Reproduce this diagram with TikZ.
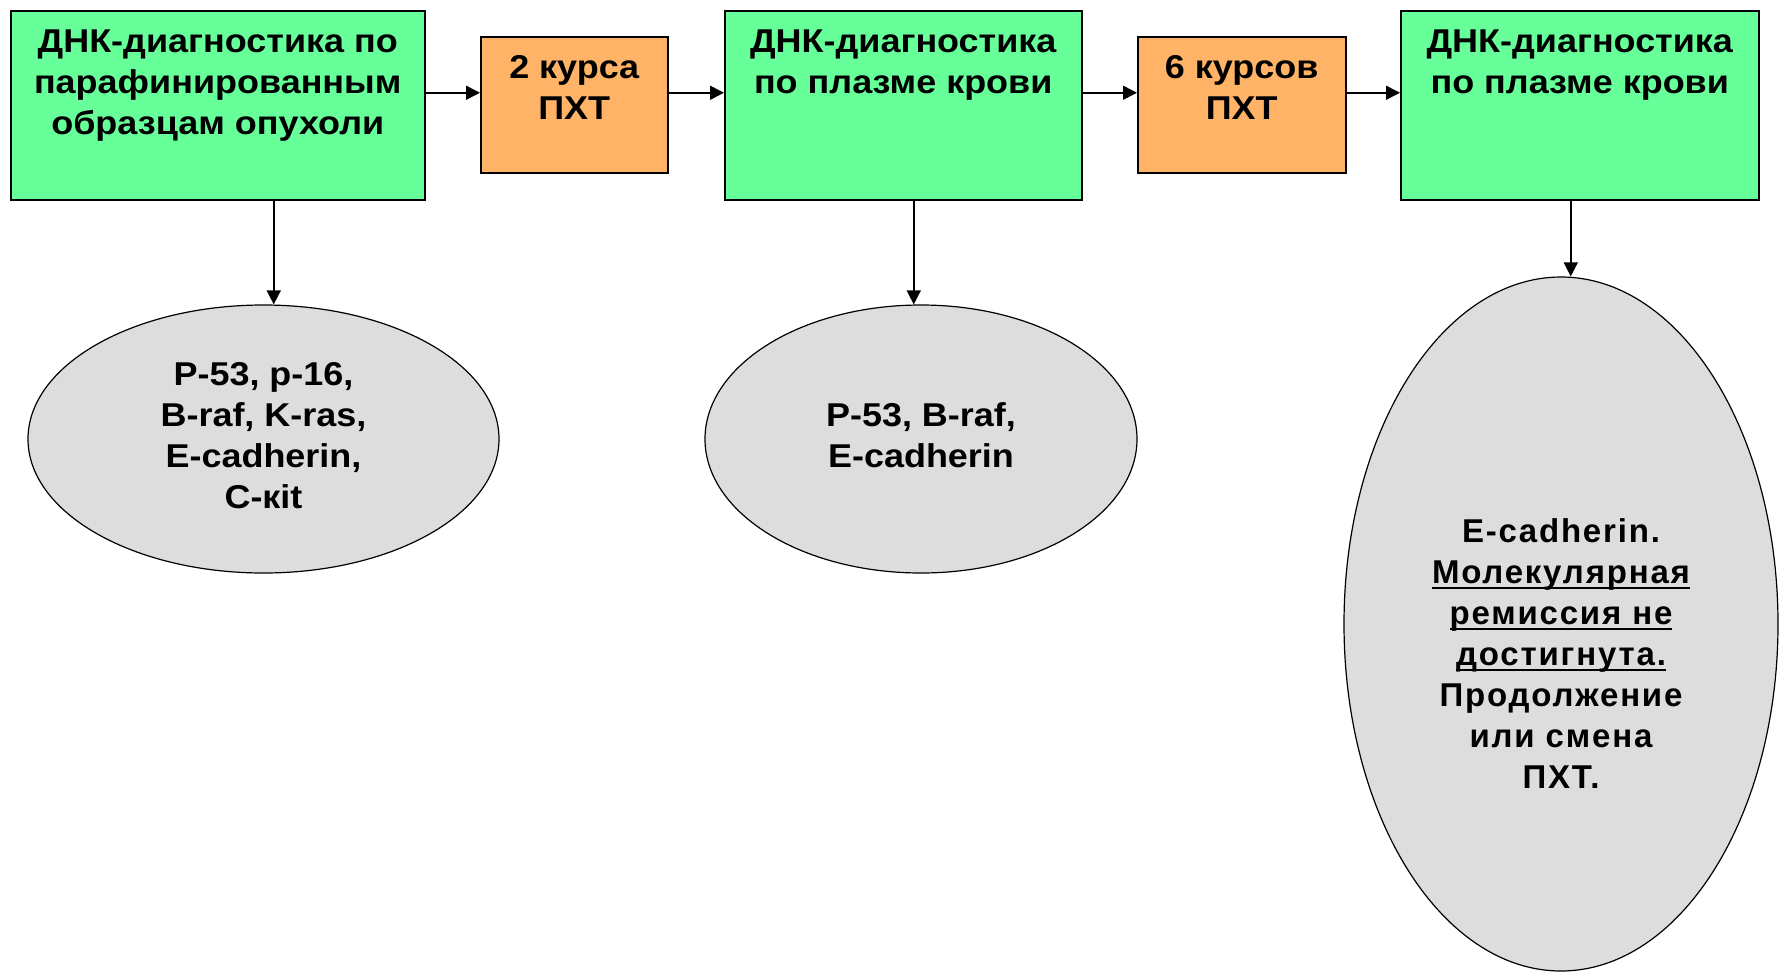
\documentclass[tikz,border=0pt]{standalone}
\usepackage{fontspec}
\setmainfont{Liberation Sans}[FakeStretch=1.09]
\newfontfamily\widefont[LetterSpace=5.5]{Liberation Sans}
\usetikzlibrary{shapes.geometric,arrows.meta}
\definecolor{boxgreen}{HTML}{66FF99}
\definecolor{boxorange}{HTML}{FFB366}
\definecolor{ellgray}{HTML}{DDDDDD}
\newcommand\boxtxt[3]{\parbox[c][#2pt][t]{#1pt}{\centering\vspace*{13pt}\strut #3\par}}
\newcommand\ltab[1]{\begin{tabular}{@{}c@{}}#1\end{tabular}}
\newcommand\myul[1]{\setbox0\hbox{#1}\rlap{\rule[-5pt]{\wd0}{2.2pt}}\box0}
\begin{document}
\begin{tikzpicture}[x=1pt,y=-1pt,
  every node/.style={font=\fontsize{33}{41}\selectfont\bfseries},
  greenbox/.style={draw=black,line width=1.5pt,fill=boxgreen,rectangle,inner sep=0pt,anchor=north west},
  orangebox/.style={draw=black,line width=1.5pt,fill=boxorange,rectangle,inner sep=0pt,anchor=north west},
  grayell/.style={draw=black,line width=1.2pt,fill=ellgray,ellipse,inner sep=0pt},
  arr/.style={line width=1.5pt,-{Triangle[length=14pt,width=14pt]}}]
\useasboundingbox (0,0) rectangle (1783,972);
% top row boxes
\node[greenbox] (b1) at (10,10) {\boxtxt{414}{189}{ДНК-диагностика по\\парафинированным\\образцам опухоли}};
\node[orangebox] (b2) at (480,36) {\boxtxt{187}{136}{2 курса\\ПХТ}};
\node[greenbox] (b3) at (724,10) {\boxtxt{357}{189}{ДНК-диагностика\\по плазме крови}};
\node[orangebox] (b4) at (1137,36) {\boxtxt{208}{136}{6 курсов\\ПХТ}};
\node[greenbox] (b5) at (1400,10) {\boxtxt{358}{189}{ДНК-диагностика\\по плазме крови}};
% ellipses
\node[grayell,minimum width=471pt,minimum height=268pt] (e1) at (263.5,439)
  {\ltab{P-53, p-16,\\B-raf, K-ras,\\E-cadherin,\\C-кit}};
\node[grayell,minimum width=432pt,minimum height=268pt] (e2) at (921,439)
  {\ltab{P-53, B-raf,\\E-cadherin}};
\node[grayell,minimum width=434pt,minimum height=694pt] (e3) at (1561,624)
  {\raisebox{-40pt}[0pt][0pt]{\widefont\bfseries\ltab{E-cadherin.\\\myul{Молекулярная}\\\myul{ремиссия не}\\\myul{достигнута.}\\Продолжение\\или смена\\ПХТ.}}};
% horizontal arrows
\draw[arr] ([yshift=12.5pt]b1.east) -- ([yshift=12.5pt]b1.east -| b2.west);
\draw[arr] ([yshift=12pt]b2.east) -- ([yshift=12pt]b2.east -| b3.west);
\draw[arr] ([yshift=12.5pt]b3.east) -- ([yshift=12.5pt]b3.east -| b4.west);
\draw[arr] ([yshift=12pt]b4.east) -- ([yshift=12pt]b4.east -| b5.west);
% vertical arrows
\draw[arr] ([xshift=56pt]b1.south) -- ([xshift=56pt]b1.south |- e1.north);
\draw[arr] ([xshift=10.5pt]b3.south) -- ([xshift=10.5pt]b3.south |- e2.north);
\draw[arr] ([xshift=-9pt]b5.south) -- ([xshift=-9pt]b5.south |- e3.north);
\end{tikzpicture}
\end{document}
